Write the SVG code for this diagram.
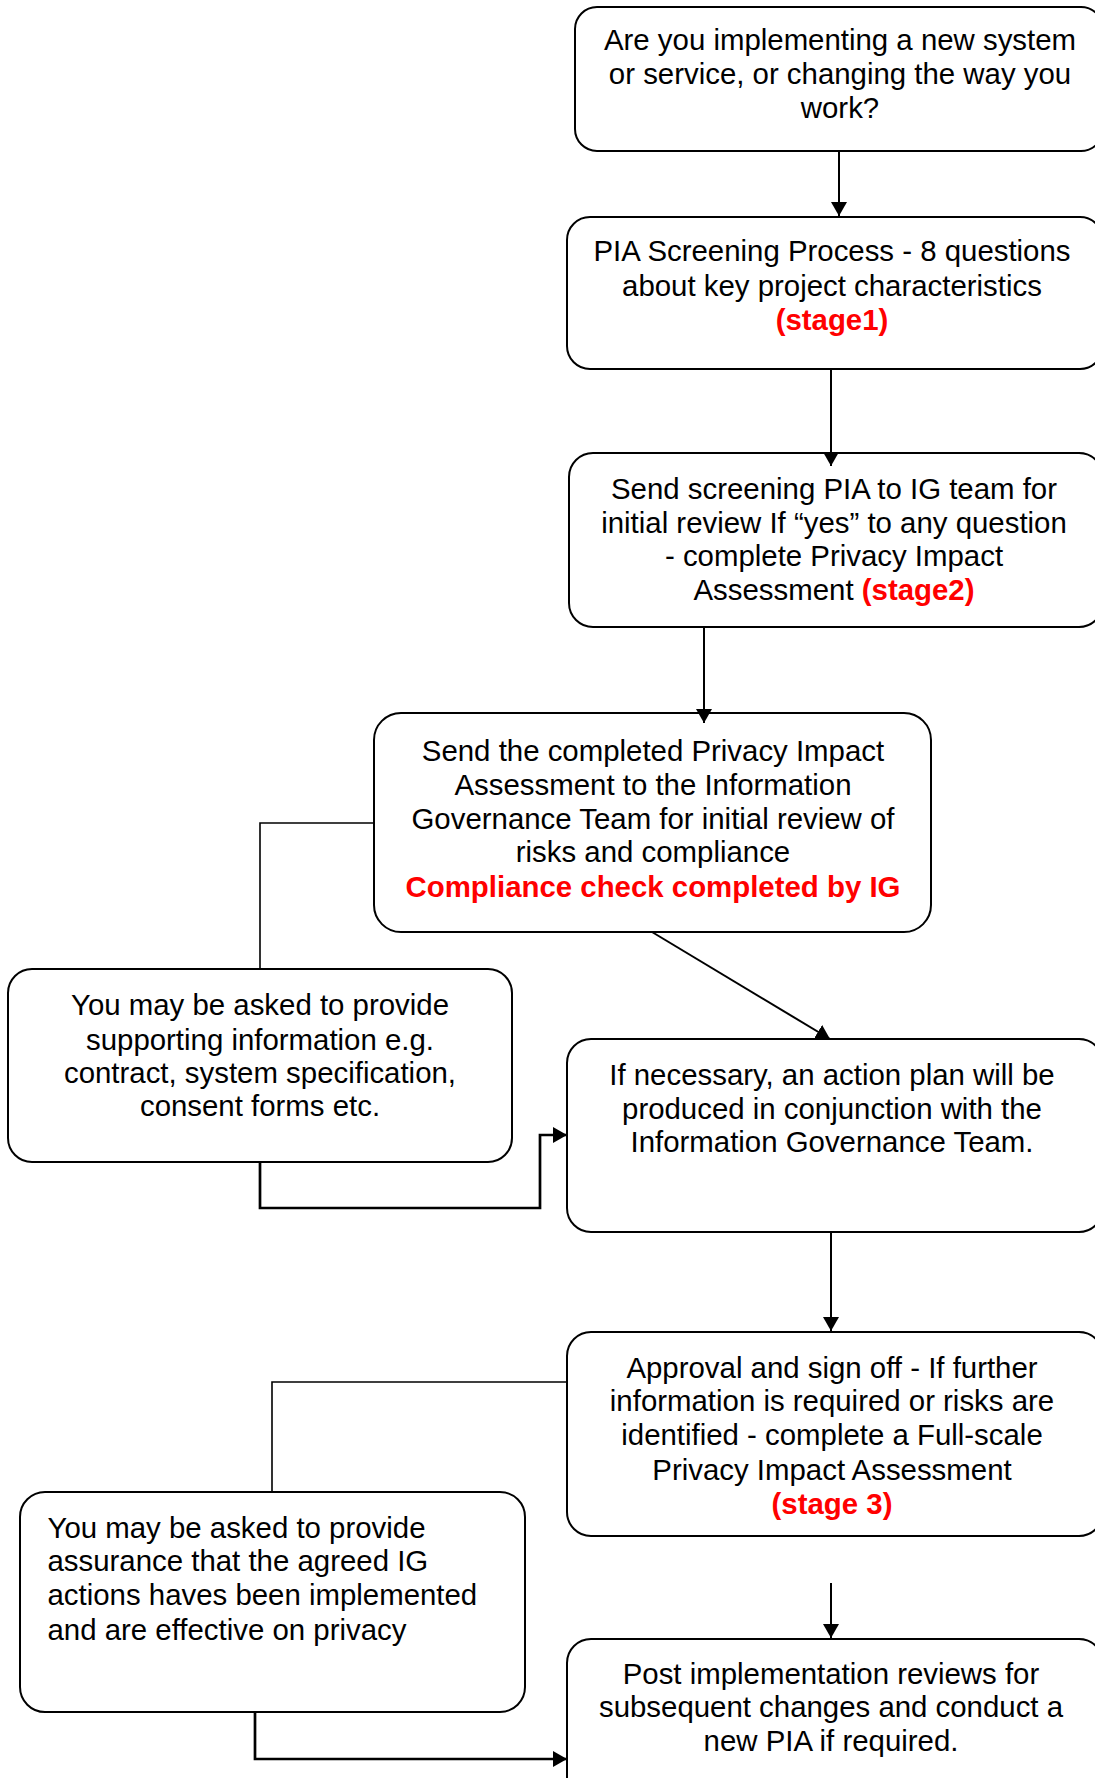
<svg xmlns="http://www.w3.org/2000/svg" width="1095" height="1778" viewBox="0 0 1095 1778">
<style>
.box{fill:#fff;stroke:#000;stroke-width:2}
.t{font-family:"Liberation Sans",Arial,sans-serif;font-size:29.4px;fill:#000;text-anchor:middle}
.l{text-anchor:start}
.r{fill:#ff0000;font-weight:bold}
.c{fill:none;stroke:#000;stroke-width:2}
.thin{stroke-width:1.6}
.thick{stroke-width:2.7}
</style>
<defs>
<marker id="ah" markerUnits="userSpaceOnUse" viewBox="0 0 14 16" markerWidth="14" markerHeight="16" refX="14" refY="8" orient="auto">
<path d="M0,0 L14,8 L0,16 z" fill="#000"/>
</marker>
</defs>
<rect width="1095" height="1778" fill="#fff"/>
<g id="n1"><rect class="box" x="575" y="7" width="528" height="144" rx="22"/>
<text class="t"><tspan x="840" y="50">Are you implementing a new system</tspan><tspan x="840" y="84">or service, or changing the way you</tspan><tspan x="840" y="118">work?</tspan></text></g>
<g id="n2"><rect class="box" x="567" y="217" width="536" height="152" rx="23"/>
<text class="t"><tspan x="832" y="260.5">PIA Screening Process - 8 questions</tspan><tspan x="832" y="295.5">about key project characteristics</tspan><tspan x="832" y="329.5" class="r">(stage1)</tspan></text></g>
<g id="n3"><rect class="box" x="569" y="453" width="534" height="174" rx="24"/>
<text class="t"><tspan x="834" y="498.5">Send screening PIA to IG team for</tspan><tspan x="834" y="532.5">initial review If “yes” to any question</tspan><tspan x="834" y="565.5">- complete Privacy Impact</tspan><tspan x="834" y="599.5">Assessment <tspan class="r">(stage2)</tspan></tspan></text></g>
<g id="n4"><rect class="box" x="374" y="713" width="557" height="219" rx="27"/>
<text class="t"><tspan x="653" y="760.5">Send the completed Privacy Impact</tspan><tspan x="653" y="794.5">Assessment to the Information</tspan><tspan x="653" y="828.5">Governance Team for initial review of</tspan><tspan x="653" y="861.5">risks and compliance</tspan><tspan x="653" y="896.5" class="r">Compliance check completed by IG</tspan></text></g>
<g id="n5"><rect class="box" x="8" y="969" width="504" height="193" rx="24"/>
<text class="t"><tspan x="260" y="1014.5">You may be asked to provide</tspan><tspan x="260" y="1049.5">supporting information e.g.</tspan><tspan x="260" y="1082.5">contract, system specification,</tspan><tspan x="260" y="1115.5">consent forms etc.</tspan></text></g>
<g id="n6"><rect class="box" x="567" y="1039" width="536" height="193" rx="24"/>
<text class="t"><tspan x="832" y="1084.5">If necessary, an action plan will be</tspan><tspan x="832" y="1118.5">produced in conjunction with the</tspan><tspan x="832" y="1151.5">Information Governance Team.</tspan></text></g>
<g id="n7"><rect class="box" x="567" y="1332" width="536" height="204" rx="24"/>
<text class="t"><tspan x="832" y="1378">Approval and sign off - If further</tspan><tspan x="832" y="1411">information is required or risks are</tspan><tspan x="832" y="1445">identified - complete a Full-scale</tspan><tspan x="832" y="1480">Privacy Impact Assessment</tspan><tspan x="832" y="1514" class="r">(stage 3)</tspan></text></g>
<g id="n8"><rect class="box" x="567" y="1639" width="536" height="170" rx="24"/>
<text class="t"><tspan x="831" y="1683.5">Post implementation reviews for</tspan><tspan x="831" y="1716.5">subsequent changes and conduct a</tspan><tspan x="831" y="1750.5">new PIA if required.</tspan></text></g>
<g id="n9"><rect class="box" x="20" y="1492" width="505" height="220" rx="25"/>
<text class="t l"><tspan x="47.5" y="1538">You may be asked to provide</tspan><tspan x="47.5" y="1571">assurance that the agreed IG</tspan><tspan x="47.5" y="1605">actions haves been implemented</tspan><tspan x="47.5" y="1640">and are effective on privacy</tspan></text></g>
<g id="connectors">
<path class="c" d="M839,151 V216" marker-end="url(#ah)"/>
<path class="c" d="M831,369 V466" marker-end="url(#ah)"/>
<path class="c" d="M704,627 V723" marker-end="url(#ah)"/>
<path class="c" d="M652,932 L830,1039" marker-end="url(#ah)"/>
<path class="c thin" d="M374,823 H260 V969"/>
<path class="c thick" d="M260,1162 V1208 H540 V1135 H567" marker-end="url(#ah)"/>
<path class="c" d="M831,1232 V1331" marker-end="url(#ah)"/>
<path class="c thin" d="M567,1382 H272 V1492"/>
<path class="c" d="M831,1583 V1638" marker-end="url(#ah)"/>
<path class="c thick" d="M255,1712 V1759 H567" marker-end="url(#ah)"/>
</g>
</svg>
